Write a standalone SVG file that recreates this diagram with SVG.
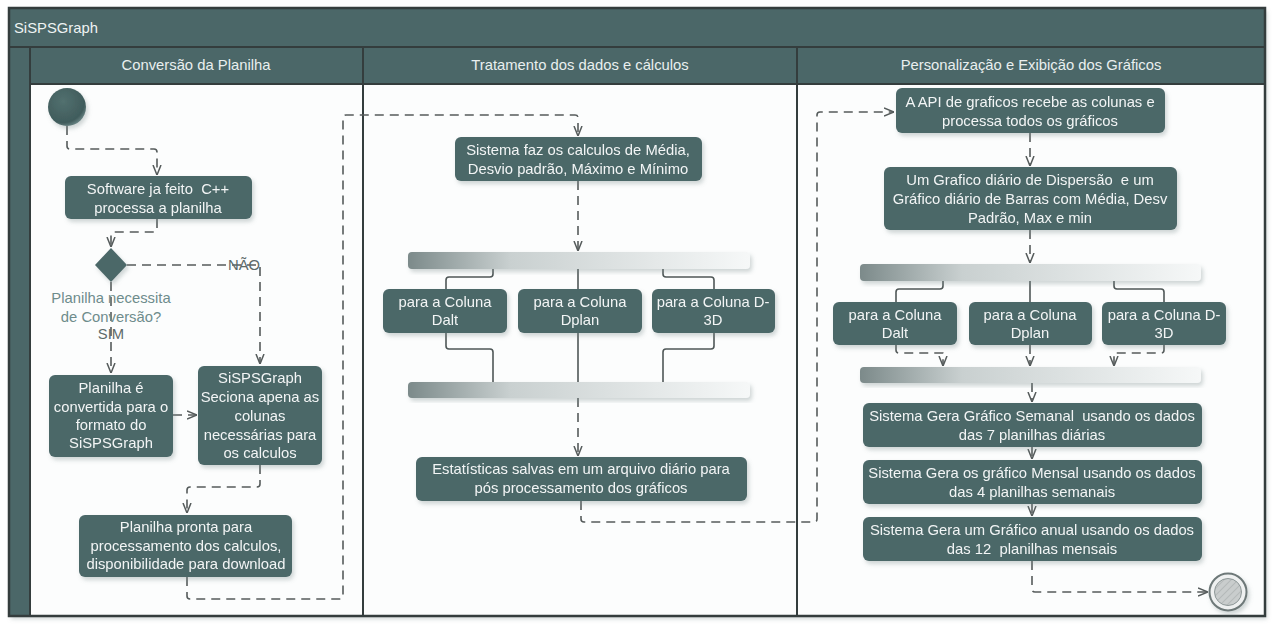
<svg xmlns="http://www.w3.org/2000/svg" width="1280" height="632" viewBox="0 0 1280 632">
<style>
text{white-space:pre;}
.node{fill:#4b6768;}
.nt{font-family:"Liberation Sans",Arial,sans-serif;font-size:14.8px;fill:#f2f5f5;text-anchor:middle;}
.ht{font-family:"Liberation Sans",Arial,sans-serif;font-size:14.8px;fill:#e9efef;text-anchor:middle;}
.lt{font-family:"Liberation Sans",Arial,sans-serif;font-size:14.8px;text-anchor:middle;}
.dash{fill:none;stroke:#555b5b;stroke-width:1.6;stroke-dasharray:9,6;stroke-linejoin:round;}
.solid{fill:none;stroke:#4f5757;stroke-width:1.6;stroke-linejoin:round;}
.bar{fill:url(#barg);}
.frame{fill:none;stroke:#343d3d;stroke-width:2.5;}
</style>
<defs>
<filter id="sh" x="-10%" y="-20%" width="130%" height="150%">
<feDropShadow dx="2" dy="3" stdDeviation="2" flood-color="#7a8a8a" flood-opacity="0.35"/>
</filter>
<linearGradient id="barg" x1="0" y1="0" x2="1" y2="0">
<stop offset="0" stop-color="#7c8a8a"/>
<stop offset="0.3" stop-color="#c9d0d0"/>
<stop offset="1" stop-color="#f6f8f8"/>
</linearGradient>
<radialGradient id="startg" cx="0.4" cy="0.35" r="0.7">
<stop offset="0" stop-color="#52706f"/>
<stop offset="0.8" stop-color="#405c5c"/>
<stop offset="1" stop-color="#6f8a8a"/>
</radialGradient>
<pattern id="hatch" width="5" height="5" patternUnits="userSpaceOnUse" patternTransform="rotate(45)">
<rect width="5" height="5" fill="#c9cdcd"/>
<line x1="0" y1="0" x2="0" y2="5" stroke="#b5baba" stroke-width="2"/>
</pattern>
<marker id="ar" viewBox="0 0 10 10" refX="10" refY="5" markerWidth="10" markerHeight="10" markerUnits="userSpaceOnUse" orient="auto">
<path d="M0,1 L10,5 L0,9" fill="none" stroke="#555b5b" stroke-width="1.5"/>
</marker>
</defs>
<rect width="1280" height="632" fill="#ffffff"/>
<g id="pool">
<rect x="9" y="8" width="1256" height="608" fill="#fcfdfd" filter="url(#sh)"/>
<rect x="9" y="8" width="1256" height="39" fill="#4b6768"/>
<rect x="9" y="47" width="21" height="569" fill="#4b6768"/>
<rect x="30" y="47" width="1235" height="37" fill="#4b6768"/>
<line x1="9" y1="47" x2="1265" y2="47" stroke="#343d3d" stroke-width="2"/>
<line x1="30" y1="84" x2="1265" y2="84" stroke="#343d3d" stroke-width="2"/>
<line x1="30" y1="47" x2="30" y2="616" stroke="#343d3d" stroke-width="2"/>
<line x1="363" y1="47" x2="363" y2="616" stroke="#343d3d" stroke-width="2"/>
<line x1="797" y1="47" x2="797" y2="616" stroke="#343d3d" stroke-width="2"/>
<rect class="frame" x="9" y="8" width="1256" height="608"/>
<text x="14" y="33" font-family="Liberation Sans,Arial,sans-serif" font-size="14.8" fill="#eef3f3">SiSPSGraph</text>
<text class="ht" x="196" y="70">Conversão da Planilha</text>
<text class="ht" x="580" y="70">Tratamento dos dados e cálculos</text>
<text class="ht" x="1031" y="70">Personalização e Exibição dos Gráficos</text>
</g>
<g id="connectors">
<path class="dash" d="M67,126 V146 Q67,149 70,149 H154 Q157,149 157,152 V175" marker-end="url(#ar)"/>
<path class="dash" d="M157,219 V229 Q157,232 154,232 H114 Q111,232 111,235 V247" marker-end="url(#ar)"/>
<path class="dash" d="M127,265 H260 V364" marker-end="url(#ar)"/>
<path class="dash" d="M111,282 V373" marker-end="url(#ar)"/>
<path class="dash" d="M173,415 H197" marker-end="url(#ar)"/>
<path class="dash" d="M260,465 V484 Q260,487 257,487 H190 Q187,487 187,490 V513" marker-end="url(#ar)"/>
<path class="dash" d="M187,577 V596 Q187,599 190,599 H340 Q343,599 343,596 V118 Q343,115 346,115 H575 Q578,115 578,118 V136" marker-end="url(#ar)"/>
<path class="dash" d="M578,181 V251" marker-end="url(#ar)"/>
<path class="solid" d="M493,269 V274 Q493,277 490,277 H449 Q446,277 446,280 V289"/>
<path class="solid" d="M578,269 V289"/>
<path class="solid" d="M663,269 V274 Q663,277 666,277 H711 Q714,277 714,280 V289"/>
<path class="solid" d="M446,333 V346 Q446,349 449,349 H490 Q493,349 493,352 V382"/>
<path class="solid" d="M578,333 V382"/>
<path class="solid" d="M714,333 V346 Q714,349 711,349 H666 Q663,349 663,352 V382"/>
<path class="dash" d="M578,398 V456" marker-end="url(#ar)"/>
<path class="dash" d="M581,501 V519 Q581,522 584,522 H814 Q817,522 817,519 V115 Q817,112 820,112 H894" marker-end="url(#ar)"/>
<path class="dash" d="M1030,133 V166" marker-end="url(#ar)"/>
<path class="dash" d="M1030,230 V263" marker-end="url(#ar)"/>
<path class="solid" d="M943,281 V286 Q943,289 940,289 H899 Q896,289 896,292 V302"/>
<path class="solid" d="M1030,281 V302"/>
<path class="solid" d="M1114,281 V286 Q1114,289 1117,289 H1161 Q1164,289 1164,292 V302"/>
<path class="dash" d="M896,345 V350 Q896,353 899,353 H943 V366" marker-end="url(#ar)"/>
<path class="dash" d="M1030,345 V366" marker-end="url(#ar)"/>
<path class="dash" d="M1164,345 V350 Q1164,353 1161,353 H1114 V366" marker-end="url(#ar)"/>
<path class="dash" d="M1032,383 V402" marker-end="url(#ar)"/>
<path class="dash" d="M1032,447 V459" marker-end="url(#ar)"/>
<path class="dash" d="M1032,504 V516" marker-end="url(#ar)"/>
<path class="dash" d="M1032,561 V589 Q1032,592 1035,592 H1208" marker-end="url(#ar)"/>
</g>
<g id="start">
<circle cx="67" cy="107" r="19" fill="url(#startg)" filter="url(#sh)"/>
</g>
<g id="n_software" filter="url(#sh)">
<rect class="node" x="65" y="176" width="187" height="43" rx="6"/>
<text class="nt" x="158" y="194">Software ja feito  C++</text>
<text class="nt" x="158" y="213">processa a planilha</text>
</g>
<g id="decision">
<path d="M111,248 L127,265 L111,282 L95,265 Z" fill="#4b6768" filter="url(#sh)"/>
<text class="lt" x="111" y="303" fill="#6e8c8c">Planilha necessita</text>
<text class="lt" x="111" y="322" fill="#6e8c8c">de Conversão?</text>
<text class="lt" x="111" y="339" fill="#5d6a6a">SIM</text>
<text class="lt" x="244" y="270" fill="#5d6a6a">NÃO</text>
</g>
<g id="n_convertida" filter="url(#sh)">
<rect class="node" x="49" y="375" width="124" height="82" rx="6"/>
<text class="nt" x="111" y="393">Planilha é</text>
<text class="nt" x="111" y="412">convertida para o</text>
<text class="nt" x="111" y="430">formato do</text>
<text class="nt" x="111" y="448">SiSPSGraph</text>
</g>
<g id="n_seciona" filter="url(#sh)">
<rect class="node" x="198" y="366" width="124" height="99" rx="6"/>
<text class="nt" x="260" y="383">SiSPSGraph</text>
<text class="nt" x="260" y="402">Seciona apena as</text>
<text class="nt" x="260" y="421">colunas</text>
<text class="nt" x="260" y="440">necessárias para</text>
<text class="nt" x="260" y="458">os calculos</text>
</g>
<g id="n_pronta" filter="url(#sh)">
<rect class="node" x="79" y="515" width="213" height="62" rx="6"/>
<text class="nt" x="186" y="532">Planilha pronta para</text>
<text class="nt" x="186" y="551">processamento dos calculos,</text>
<text class="nt" x="186" y="569">disponibilidade para download</text>
</g>
<g id="n_calculos" filter="url(#sh)">
<rect class="node" x="455" y="137" width="247" height="44" rx="6"/>
<text class="nt" x="578" y="155">Sistema faz os calculos de Média,</text>
<text class="nt" x="578" y="174">Desvio padrão, Máximo e Mínimo</text>
</g>
<g id="fork1"><rect class="bar" x="408" y="252" width="342" height="17" rx="4" filter="url(#sh)"/></g>
<g id="n_dalt1" filter="url(#sh)">
<rect class="node" x="383" y="289" width="124" height="44" rx="6"/>
<text class="nt" x="445" y="307">para a Coluna</text>
<text class="nt" x="445" y="325">Dalt</text>
</g>
<g id="n_dplan1" filter="url(#sh)">
<rect class="node" x="518" y="289" width="124" height="44" rx="6"/>
<text class="nt" x="580" y="307">para a Coluna</text>
<text class="nt" x="580" y="325">Dplan</text>
</g>
<g id="n_d3d1" filter="url(#sh)">
<rect class="node" x="652" y="289" width="123" height="44" rx="6"/>
<text class="nt" x="713" y="307">para a Coluna D-</text>
<text class="nt" x="713" y="325">3D</text>
</g>
<g id="join1"><rect class="bar" x="408" y="382" width="342" height="16" rx="4" filter="url(#sh)"/></g>
<g id="n_estat" filter="url(#sh)">
<rect class="node" x="416" y="457" width="331" height="44" rx="6"/>
<text class="nt" x="581" y="474">Estatísticas salvas em um arquivo diário para</text>
<text class="nt" x="581" y="493">pós processamento dos gráficos</text>
</g>
<g id="n_api" filter="url(#sh)">
<rect class="node" x="896" y="88" width="269" height="45" rx="6"/>
<text class="nt" x="1030" y="107">A API de graficos recebe as colunas e</text>
<text class="nt" x="1030" y="126">processa todos os gráficos</text>
</g>
<g id="n_grafdiario" filter="url(#sh)">
<rect class="node" x="884" y="167" width="293" height="63" rx="6"/>
<text class="nt" x="1030" y="185">Um Grafico diário de Dispersão  e um</text>
<text class="nt" x="1030" y="204">Gráfico diário de Barras com Média, Desv</text>
<text class="nt" x="1030" y="223">Padrão, Max e min</text>
</g>
<g id="fork2"><rect class="bar" x="860" y="264" width="341" height="17" rx="4" filter="url(#sh)"/></g>
<g id="n_dalt2" filter="url(#sh)">
<rect class="node" x="833" y="302" width="124" height="43" rx="6"/>
<text class="nt" x="895" y="320">para a Coluna</text>
<text class="nt" x="895" y="338">Dalt</text>
</g>
<g id="n_dplan2" filter="url(#sh)">
<rect class="node" x="969" y="302" width="123" height="43" rx="6"/>
<text class="nt" x="1030" y="320">para a Coluna</text>
<text class="nt" x="1030" y="338">Dplan</text>
</g>
<g id="n_d3d2" filter="url(#sh)">
<rect class="node" x="1102" y="302" width="124" height="43" rx="6"/>
<text class="nt" x="1164" y="320">para a Coluna D-</text>
<text class="nt" x="1164" y="338">3D</text>
</g>
<g id="join2"><rect class="bar" x="860" y="367" width="341" height="16" rx="4" filter="url(#sh)"/></g>
<g id="n_semanal" filter="url(#sh)">
<rect class="node" x="863" y="403" width="339" height="44" rx="6"/>
<text class="nt" x="1032" y="421">Sistema Gera Gráfico Semanal  usando os dados</text>
<text class="nt" x="1032" y="440">das 7 planilhas diárias</text>
</g>
<g id="n_mensal" filter="url(#sh)">
<rect class="node" x="863" y="460" width="339" height="44" rx="6"/>
<text class="nt" x="1032" y="478">Sistema Gera os gráfico Mensal usando os dados</text>
<text class="nt" x="1032" y="497">das 4 planilhas semanais</text>
</g>
<g id="n_anual" filter="url(#sh)">
<rect class="node" x="863" y="517" width="339" height="44" rx="6"/>
<text class="nt" x="1032" y="535">Sistema Gera um Gráfico anual usando os dados</text>
<text class="nt" x="1032" y="554">das 12  planilhas mensais</text>
</g>
<g id="end">
<circle cx="1228" cy="592" r="18.5" fill="#eef0f0" stroke="#6d7878" stroke-width="2" filter="url(#sh)"/>
<circle cx="1228" cy="592" r="13.5" fill="url(#hatch)" stroke="#8e9898" stroke-width="1"/>
</g>
</svg>
